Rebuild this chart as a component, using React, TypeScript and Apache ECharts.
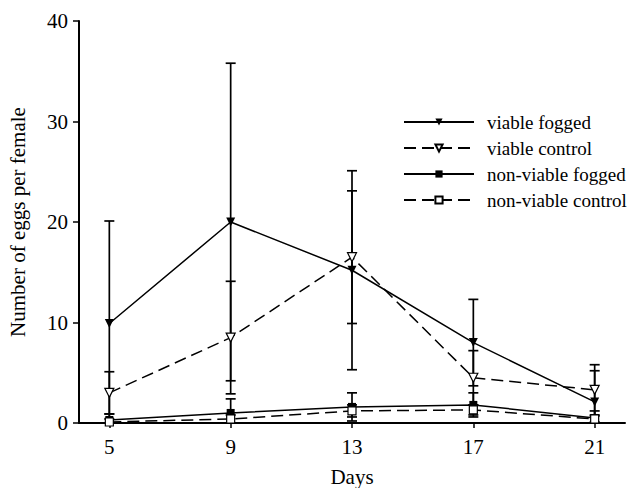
import React, { useEffect, useRef } from "react";
import * as echarts from "echarts";

const days = [5, 9, 13, 17, 21];
const viableFogged = [9.9, 20.0, 15.2, 8.0, 2.1];
const viableFoggedErr = [10.2, 15.8, 9.9, 4.3, 3.1];
const viableControl = [3.0, 8.5, 16.5, 4.5, 3.3];
const viableControlErr = [2.1, 5.6, 6.6, 2.7, 2.5];
const nonViableFogged = [0.3, 1.0, 1.6, 1.8, 0.5];
const nonViableFoggedErr = [0.6, 1.4, 1.4, 1.2, 0.7];
const nonViableControl = [0.1, 0.4, 1.2, 1.3, 0.4];
const nonViableControlErr = [0.3, 0.4, 0.6, 0.5, 0.3];
const yTicks = [0, 10, 20, 30, 40];

const seriesNames = ["viable fogged", "viable control", "non-viable fogged", "non-viable control"];

const FONT = "'Liberation Serif', 'Times New Roman', serif";

export default function App() {
  const ref = useRef<HTMLDivElement>(null);

  useEffect(() => {
    if (!ref.current) return;
    const chart = echarts.init(ref.current, null, { renderer: "svg" });

    const groups = [
      { name: seriesNames[0], vals: viableFogged, errs: viableFoggedErr, symbol: "triangle", rotate: 180, size: 9, fill: "#000", dashed: false },
      { name: seriesNames[1], vals: viableControl, errs: viableControlErr, symbol: "triangle", rotate: 180, size: 9, fill: "#fff", dashed: true },
      { name: seriesNames[2], vals: nonViableFogged, errs: nonViableFoggedErr, symbol: "rect", rotate: 0, size: 8, fill: "#000", dashed: false },
      { name: seriesNames[3], vals: nonViableControl, errs: nonViableControlErr, symbol: "rect", rotate: 0, size: 8, fill: "#fff", dashed: true },
    ];

    const errData: number[][] = [];
    groups.forEach((g) => {
      days.forEach((d, i) => {
        errData.push([d, g.vals[i] - g.errs[i], g.vals[i] + g.errs[i]]);
      });
    });

    const lineSeries = groups.map((g) => ({
      name: g.name,
      type: "line",
      data: days.map((d, i) => [d, g.vals[i]]),
      symbol: g.symbol,
      symbolRotate: g.rotate,
      symbolSize: g.size,
      showAllSymbol: true,
      z: 3,
      itemStyle: { color: g.fill, borderColor: "#000", borderWidth: g.fill === "#fff" ? 1.2 : 0 },
      lineStyle: { color: "#000", width: 1.5, type: g.dashed ? [12, 6] : "solid" },
    }));

    const option: any = {
      animation: false,
      backgroundColor: "#fff",
      textStyle: { fontFamily: FONT, color: "#000" },
      grid: { left: 79, right: 5, top: 21, bottom: 65, containLabel: false, outerBoundsMode: "none" },
      legend: {
        data: seriesNames,
        orient: "vertical",
        left: 403,
        top: 112,
        padding: 0,
        itemWidth: 70,
        itemHeight: 9,
        itemGap: 6,
        textStyle: { fontFamily: FONT, fontSize: 19, color: "#000", lineHeight: 20, padding: [0, 0, 0, 8] },
      },
      xAxis: {
        type: "value",
        min: 4,
        max: 22,
        name: "Days",
        nameLocation: "middle",
        nameGap: 43,
        nameTextStyle: { fontFamily: FONT, fontSize: 21, color: "#000" },
        splitLine: { show: false },
        axisLine: { show: true, onZero: false, lineStyle: { color: "#000", width: 2 } },
        axisTick: { show: true, length: 5, customValues: days, lineStyle: { color: "#000", width: 1.5 } },
        axisLabel: { customValues: days, margin: 13, fontFamily: FONT, fontSize: 21, color: "#000" },
      },
      yAxis: {
        type: "value",
        min: 0,
        max: 40,
        interval: 10,
        name: "Number of eggs per female",
        nameLocation: "middle",
        nameGap: 51,
        nameTextStyle: { fontFamily: FONT, fontSize: 21, color: "#000" },
        splitLine: { show: false },
        axisLine: { show: true, onZero: false, lineStyle: { color: "#000", width: 2 } },
        axisTick: { show: true, length: 6, customValues: yTicks, lineStyle: { color: "#000", width: 1.5 } },
        axisLabel: { customValues: yTicks, margin: 11, fontFamily: FONT, fontSize: 21, color: "#000" },
      },
      series: [
        {
          type: "custom",
          name: "error",
          data: errData,
          encode: { x: 0, y: [1, 2] },
          z: 2,
          clip: true,
          renderItem: (params: any, api: any) => {
            const x = api.value(0);
            const lo = api.value(1);
            const hi = api.value(2);
            const pHi = api.coord([x, hi]);
            const pLo = api.coord([x, lo]);
            const half = 5;
            const st = { stroke: "#000", lineWidth: 1.7 };
            return {
              type: "group",
              children: [
                { type: "line", shape: { x1: pHi[0], y1: pHi[1], x2: pLo[0], y2: pLo[1] }, style: st },
                { type: "line", shape: { x1: pHi[0] - half, y1: pHi[1], x2: pHi[0] + half, y2: pHi[1] }, style: st },
                { type: "line", shape: { x1: pLo[0] - half, y1: pLo[1], x2: pLo[0] + half, y2: pLo[1] }, style: st },
              ],
            };
          },
        },
        ...lineSeries,
      ],
    };

    chart.setOption(option);
    return () => chart.dispose();
  }, []);

  return (
    <div
      ref={ref}
      style={{ position: "absolute", left: 0, top: 0, width: 630, height: 488, background: "#fff" }}
    />
  );
}
